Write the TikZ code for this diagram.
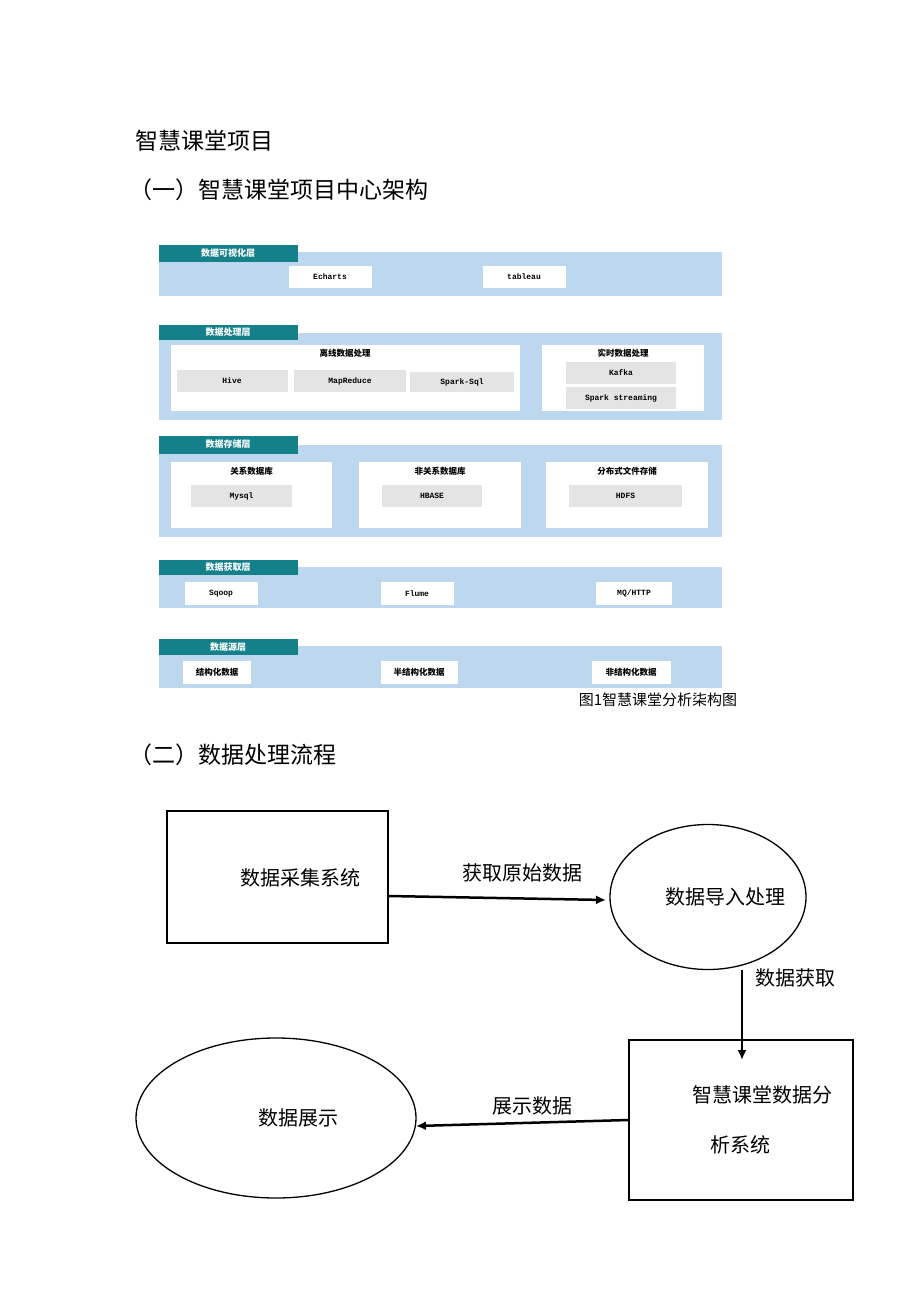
\documentclass[tikz,border=0pt]{standalone}
\usepackage{fontspec}
\setmainfont{Noto Sans CJK SC}
\newfontfamily\mono{Liberation Mono}
\usetikzlibrary{shapes.geometric,arrows.meta}
\definecolor{teal1}{HTML}{14808A}
\definecolor{band}{HTML}{BDD7EE}
\definecolor{gry}{HTML}{E4E4E4}
\tikzset{
 bandbox/.style={fill=band,draw=none},
 tabbox/.style={fill=teal1,draw=none},
 tabtxt/.style={text=white,font=\fontsize{9}{10}\selectfont\bfseries,anchor=center},
 wbox/.style={fill=white,draw=none},
 gbox/.style={fill=gry,draw=none},
 small/.style={font=\fontsize{8.5}{9}\selectfont\bfseries},
 smono/.style={font=\mono\fontsize{8}{9}\selectfont\bfseries},
 head/.style={font=\fontsize{23}{25}\selectfont,anchor=west},
 flowtxt/.style={font=\fontsize{20}{22}\selectfont},
 fbox/.style={draw,line width=1.3pt},
 farr/.style={line width=2.5pt,-{Latex[length=10pt,width=9pt]}}
}
\begin{document}
\begin{tikzpicture}[x=1pt,y=-1pt]
\useasboundingbox (0,0) rectangle (920,1301);
\node[head] (h1) at (132,141) {智慧课堂项目};
\node[head] (h2) at (126,190) {（一）智慧课堂项目中心架构};
\node[head] (h3) at (126,755) {（二）数据处理流程};
% layer 1
\fill[bandbox] (159,252) rectangle (722,296);
\fill[tabbox] (159,245) rectangle (298,262);
\node[tabtxt] (t1) at (228,253.5) {数据可视化层};
\fill[wbox] (289,266) rectangle (372,288); \node[smono] (e1) at (330,277) {Echarts};
\fill[wbox] (483,266) rectangle (566,288); \node[smono] (e2) at (524,277) {tableau};
% layer 2
\fill[bandbox] (159,333) rectangle (722,420);
\fill[tabbox] (159,325) rectangle (298,340);
\node[tabtxt] (t2) at (228,332.5) {数据处理层};
\fill[wbox] (171,345) rectangle (520,411); \node[small] (o) at (345,353) {离线数据处理};
\fill[gbox] (177,370) rectangle (288,392); \node[smono] (hv) at (232,381) {Hive};
\fill[gbox] (294,370) rectangle (406,392); \node[smono] (mr) at (350,381) {MapReduce};
\fill[gbox] (410,372) rectangle (514,392); \node[smono] (ss) at (462,382) {Spark-Sql};
\fill[wbox] (542,345) rectangle (704,411); \node[small] (rt) at (623,353) {实时数据处理};
\fill[gbox] (566,362) rectangle (676,384); \node[smono] (kf) at (621,373) {Kafka};
\fill[gbox] (566,387) rectangle (676,409); \node[smono] (st) at (621,398) {Spark streaming};
% layer 3
\fill[bandbox] (159,445) rectangle (722,537);
\fill[tabbox] (159,436) rectangle (298,454);
\node[tabtxt] (t3) at (228,444) {数据存储层};
\foreach \a/\b/\ga/\gb/\tt/\gg in {171/332/191/292/关系数据库/Mysql,359/521/382/482/非关系数据库/HBASE,546/708/569/682/分布式文件存储/HDFS}{
 \fill[wbox] (\a,462) rectangle (\b,528);
 \node[small] at ({(\a+\b)/2},471) {\tt};
 \fill[gbox] (\ga,485) rectangle (\gb,507);
 \node[smono] at ({(\ga+\gb)/2},496) {\gg};
}
% layer 4
\fill[bandbox] (159,567) rectangle (722,608);
\fill[tabbox] (159,560) rectangle (298,575);
\node[tabtxt] (t4) at (228,567.5) {数据获取层};
\fill[wbox] (185,582) rectangle (258,605); \node[smono] (sq) at (221,593.5) {Sqoop};
\fill[wbox] (381,582) rectangle (454,605); \node[smono] (fl) at (417,593.5) {Flume};
\fill[wbox] (596,582) rectangle (672,605); \node[smono] (mq) at (634,593.5) {MQ/HTTP};
% layer 5
\fill[bandbox] (159,646) rectangle (722,688);
\fill[tabbox] (159,639) rectangle (298,655);
\node[tabtxt] (t5) at (228,647) {数据源层};
\fill[wbox] (183,661) rectangle (251,684); \node[small] (d1) at (217,672.5) {结构化数据};
\fill[wbox] (381,661) rectangle (458,684); \node[small] (d2) at (419,672.5) {半结构化数据};
\fill[wbox] (592,661) rectangle (671,684); \node[small] (d3) at (631,672.5) {非结构化数据};
\node[font=\fontsize{15}{16}\selectfont] (cap) at (658,700) {图1智慧课堂分析柒构图};
% flow
\node[fbox,minimum width=221pt,minimum height=132pt] (A) at (277.5,877) {};
\node[flowtxt] at (300,878) {数据采集系统};
\node[fbox,ellipse,minimum width=196pt,minimum height=145pt] (B) at (708,897) {};
\node[flowtxt] at (725,897) {数据导入处理};
\node[fbox,minimum width=224pt,minimum height=160pt] (C) at (741,1120) {};
\node[flowtxt] at (762,1095) {智慧课堂数据分};
\node[flowtxt] at (740,1145) {析系统};
\node[fbox,ellipse,minimum width=280pt,minimum height=160pt] (D) at (276,1118) {};
\node[flowtxt] at (298,1118) {数据展示};
\coordinate (a1) at (A.east |- 0,896);
\coordinate (b1) at (606,900);
\draw[farr] (a1) -- (b1);
\node[flowtxt] (l1) at (522,873) {获取原始数据};
\coordinate (ct) at (742,1060);
\draw[farr] (B.south -| ct) -- (ct);
\node[flowtxt] (l3) at (795,978) {数据获取};
\coordinate (c1) at (C.west |- 0,1120);
\coordinate (d1) at (416,1126);
\draw[farr] (c1) -- (d1);
\node[flowtxt] (l4) at (532,1106) {展示数据};
\end{tikzpicture}
\end{document}
